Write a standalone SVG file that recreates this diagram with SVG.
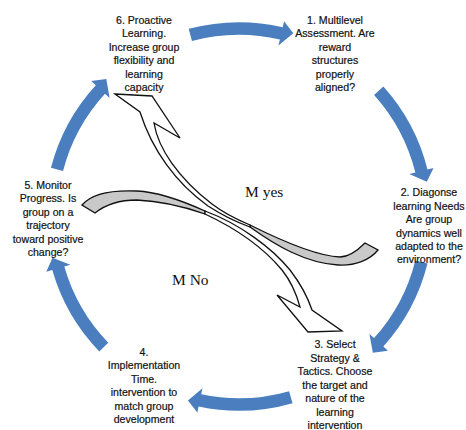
<svg xmlns="http://www.w3.org/2000/svg" width="466" height="430" viewBox="0 0 466 430">
  <style>
    .step { font-family: "Liberation Sans", Arial, sans-serif; font-size: 10.6px; fill: #111; stroke: #111; stroke-width: 0.2; text-anchor: middle; }
    .cycle { fill: #4a7ebf; }
    .ribbon { fill: #ffffff; stroke: #111; stroke-width: 1.3; stroke-linejoin: miter; }
    .ribbon-back { fill: #c9c9c9; stroke: #111; stroke-width: 1.3; stroke-linejoin: miter; }
    .branch { font-family: "Liberation Serif", "Times New Roman", serif; font-size: 15.5px; fill: #111; }
  </style>
  <defs>
    <!-- one curved block arrow on the ring (centre 239,216.5; r 188), drawn at the top -->
    <path id="ring-arrow" d="M188.72,28.87 A194.25,194.25 0 0 1 282.70,27.23 L284.10,21.14 L293.25,33.37 L278.48,45.50 L279.88,39.41 A181.75,181.75 0 0 0 191.96,40.94 Z"/>
  </defs>
  <rect width="466" height="430" fill="#ffffff"/>

  <g id="connectors">
    <!-- cycle arrows, clockwise -->
    <use href="#ring-arrow" class="cycle"/>
    <use href="#ring-arrow" class="cycle" transform="rotate(63 239 216.5)"/>
    <use href="#ring-arrow" class="cycle" transform="rotate(119 239 216.5)"/>
    <use href="#ring-arrow" class="cycle" transform="rotate(179 239 216.5)"/>
    <use href="#ring-arrow" class="cycle" transform="rotate(241 239 216.5)"/>
    <use href="#ring-arrow" class="cycle" transform="rotate(299.5 239 216.5)"/>

    <!-- "yes" ribbon: curled tail on the right, head up to step 6 -->
    <g id="ribbon-yes">
      <path class="ribbon-back" d="M250,225 C280,240 315,256 340,257 C350,257 358,250 365,243 L378,250 C370,260 355,266 338,265 C305,263 275,245 250,227 Z"/>
      <path class="ribbon" d="M115,94 L152,96 L180,138 L154,123 C158,148 178,178 212,204 C225,214 238,220 250,225 L250,227 C236,222 222,215 208,206 C176,183 152,150 140,112 Z"/>
    </g>
    <!-- "no" ribbon: curled tail on the left, head down to step 3 -->
    <g id="ribbon-no">
      <path class="ribbon-back" d="M82,205 C92,193 115,190 137,191 C160,192 185,202 205,211 L205,214 C185,207 160,201 137,200 C120,200 105,205 95,213 Z"/>
      <path class="ribbon" d="M205,211 C240,224 272,248 290,270 C300,283 308,298 312,310 L342,331 L308,332 L277,295 L300,307 C296,292 290,280 282,270 C262,246 235,228 205,214 Z"/>
    </g>
    <text class="branch" x="245" y="196.5">M yes</text>
    <text class="branch" x="172" y="284.5">M No</text>
  </g>

  <g id="step-1">
    <text class="step" x="335" y="24">1. Multilevel</text>
    <text class="step" x="335" y="37.4">Assessment. Are</text>
    <text class="step" x="335" y="50.8">reward</text>
    <text class="step" x="335" y="64.2">structures</text>
    <text class="step" x="335" y="77.6">properly</text>
    <text class="step" x="335" y="91">aligned?</text>
  </g>
  <g id="step-2">
    <text class="step" x="429" y="196.3">2. Diagonse</text>
    <text class="step" x="429" y="209.7">learning Needs</text>
    <text class="step" x="429" y="223.1">Are group</text>
    <text class="step" x="429" y="236.5">dynamics well</text>
    <text class="step" x="429" y="249.9">adapted to the</text>
    <text class="step" x="429" y="263.3">environment?</text>
  </g>
  <g id="step-3">
    <text class="step" x="335" y="348">3. Select</text>
    <text class="step" x="335" y="361.5">Strategy &amp;</text>
    <text class="step" x="335" y="375">Tactics. Choose</text>
    <text class="step" x="335" y="388.5">the target and</text>
    <text class="step" x="335" y="402">nature of the</text>
    <text class="step" x="335" y="415.5">learning</text>
    <text class="step" x="335" y="429">intervention</text>
  </g>
  <g id="step-4">
    <text class="step" x="144" y="356">4.</text>
    <text class="step" x="144" y="369.4">Implementation</text>
    <text class="step" x="144" y="382.8">Time.</text>
    <text class="step" x="144" y="396.2">intervention to</text>
    <text class="step" x="144" y="409.6">match group</text>
    <text class="step" x="144" y="423">development</text>
  </g>
  <g id="step-5">
    <text class="step" x="48" y="189">5. Monitor</text>
    <text class="step" x="48" y="202.4">Progress. Is</text>
    <text class="step" x="48" y="215.8">group on a</text>
    <text class="step" x="48" y="229.2">trajectory</text>
    <text class="step" x="48" y="242.6">toward positive</text>
    <text class="step" x="48" y="256">change?</text>
  </g>
  <g id="step-6">
    <text class="step" x="144" y="24">6. Proactive</text>
    <text class="step" x="144" y="37.4">Learning.</text>
    <text class="step" x="144" y="50.8">Increase group</text>
    <text class="step" x="144" y="64.2">flexibility and</text>
    <text class="step" x="144" y="77.6">learning</text>
    <text class="step" x="144" y="91">capacity</text>
  </g>
</svg>
